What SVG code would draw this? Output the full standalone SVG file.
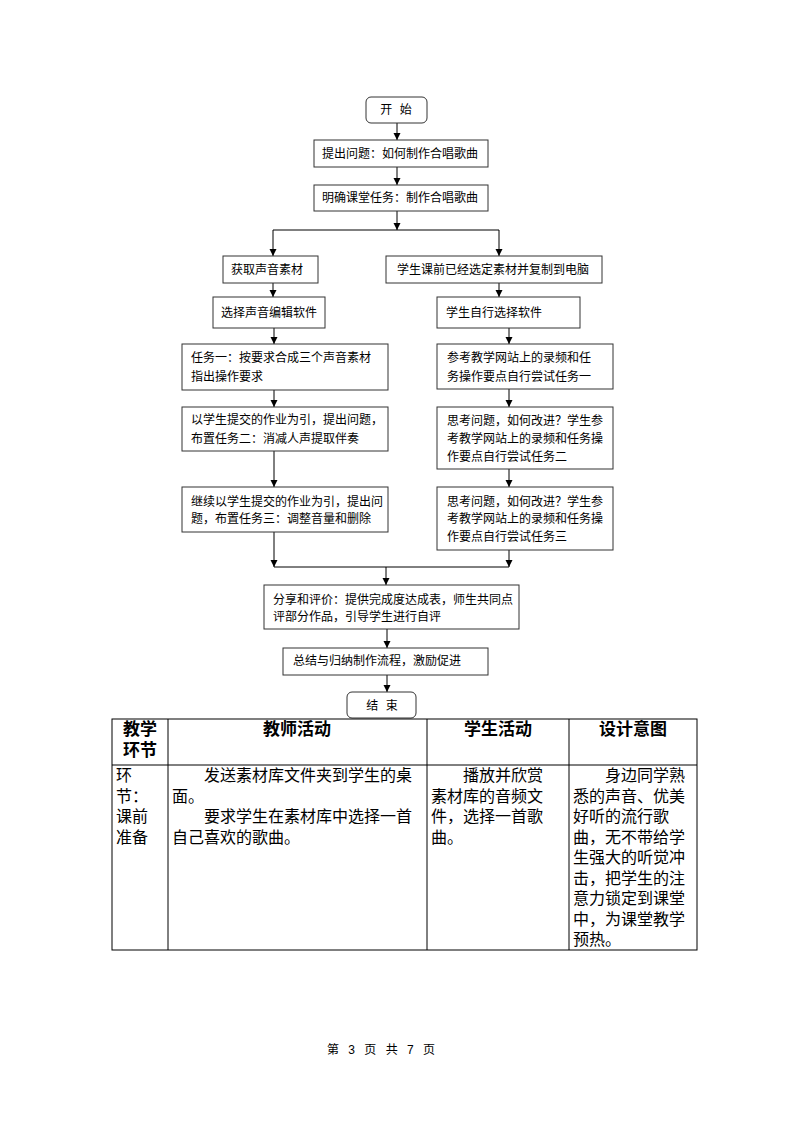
<svg xmlns="http://www.w3.org/2000/svg" width="794" height="1123" viewBox="0 0 794 1123">
<defs>
<marker id="ah" markerWidth="8" markerHeight="8" refX="7" refY="4" orient="auto" markerUnits="userSpaceOnUse">
<path d="M0,0.5 L7,4 L0,7.5 Z" fill="#000"/>
</marker>
<style>
.b{fill:#fff;stroke:#333;stroke-width:1}
.t{font-family:"Noto Sans CJK SC","Liberation Sans",sans-serif;font-size:12px;fill:#000}
.c{stroke:#000;stroke-width:1;fill:none}
.a{stroke:#000;stroke-width:1;fill:none;marker-end:url(#ah)}
.tl{stroke:#000;stroke-width:1}
.h{font-family:"Liberation Sans","Noto Sans CJK SC",sans-serif;font-size:17px;font-weight:bold;fill:#000}
.x{font-family:"Liberation Sans","Noto Sans CJK SC",sans-serif;font-size:16px;fill:#000}
.f{font-family:"Liberation Sans","Noto Sans CJK SC",sans-serif;font-size:12px;fill:#000}
</style>
</defs>
<rect width="794" height="1123" fill="#fff"/>
<g id="connectors">
<path class="a" d="M397,123 V140"/>
<path class="a" d="M397,167 V185"/>
<path class="a" d="M397,211 V230"/>
<path class="c" d="M273,230 H499"/>
<path class="a" d="M273,230 V256"/>
<path class="a" d="M499,230 V256"/>
<path class="a" d="M273,283 V297"/>
<path class="a" d="M499,283 V297"/>
<path class="a" d="M274,328 V344"/>
<path class="a" d="M509,328 V344"/>
<path class="a" d="M274,390 V407"/>
<path class="a" d="M509,389 V407"/>
<path class="a" d="M274,451 V487"/>
<path class="a" d="M509,469 V487"/>
<path class="a" d="M274,532 V567"/>
<path class="a" d="M509,550 V567"/>
<path class="c" d="M274,567 H509"/>
<path class="a" d="M386,567 V585"/>
<path class="a" d="M387,629 V648"/>
<path class="a" d="M387,675 V692"/>
</g>
<g id="start"><rect class="b" x="366" y="97" width="61" height="26" rx="5"/><text class="t" x="396" y="114" text-anchor="middle" word-spacing="5">开 始</text></g>
<g id="n1"><rect class="b" x="314" y="140" width="174" height="27"/><text class="t" x="322" y="158">提出问题：如何制作合唱歌曲</text></g>
<g id="n2"><rect class="b" x="314" y="185" width="174" height="26"/><text class="t" x="322" y="202">明确课堂任务：制作合唱歌曲</text></g>
<g id="l1"><rect class="b" x="223" y="256" width="95" height="27"/><text class="t" x="231" y="274">获取声音素材</text></g>
<g id="r1"><rect class="b" x="386" y="256" width="216" height="27"/><text class="t" x="397" y="274">学生课前已经选定素材并复制到电脑</text></g>
<g id="l2"><rect class="b" x="213" y="297" width="112" height="31"/><text class="t" x="221" y="317">选择声音编辑软件</text></g>
<g id="r2"><rect class="b" x="437" y="297" width="143" height="31"/><text class="t" x="446" y="317">学生自行选择软件</text></g>
<g id="l3"><rect class="b" x="182" y="344" width="206" height="46"/><text class="t" x="191" y="362">任务一：按要求合成三个声音素材</text><text class="t" x="191" y="381">指出操作要求</text></g>
<g id="r3"><rect class="b" x="437" y="344" width="176" height="45"/><text class="t" x="447" y="362">参考教学网站上的录频和任</text><text class="t" x="447" y="381">务操作要点自行尝试任务一</text></g>
<g id="l4"><rect class="b" x="182" y="407" width="206" height="44"/><text class="t" x="191" y="424">以学生提交的作业为引，提出问题，</text><text class="t" x="191" y="443">布置任务二：消减人声提取伴奏</text></g>
<g id="r4"><rect class="b" x="437" y="407" width="176" height="62"/><text class="t" x="447" y="425">思考问题，如何改进？学生参</text><text class="t" x="447" y="443">考教学网站上的录频和任务操</text><text class="t" x="447" y="461">作要点自行尝试任务二</text></g>
<g id="l5"><rect class="b" x="182" y="487" width="206" height="45"/><text class="t" x="191" y="506">继续以学生提交的作业为引，提出问</text><text class="t" x="191" y="523">题，布置任务三：调整音量和删除</text></g>
<g id="r5"><rect class="b" x="437" y="487" width="176" height="63"/><text class="t" x="447" y="506">思考问题，如何改进？学生参</text><text class="t" x="447" y="523">考教学网站上的录频和任务操</text><text class="t" x="447" y="541">作要点自行尝试任务三</text></g>
<g id="share"><rect class="b" x="264" y="585" width="255" height="44"/><text class="t" x="273" y="604">分享和评价：提供完成度达成表，师生共同点</text><text class="t" x="273" y="621">评部分作品，引导学生进行自评</text></g>
<g id="sum"><rect class="b" x="283" y="648" width="205" height="27"/><text class="t" x="293" y="665">总结与归纳制作流程，激励促进</text></g>
<g id="end"><rect class="b" x="347" y="692" width="69" height="26" rx="5"/><text class="t" x="382" y="710" text-anchor="middle" word-spacing="5">结 束</text></g>
<g id="table">
<rect x="112" y="719" width="585" height="231" fill="none" stroke="#000" stroke-width="1"/>
<line class="tl" x1="112" y1="765" x2="697" y2="765"/>
<line class="tl" x1="168" y1="719" x2="168" y2="950"/>
<line class="tl" x1="427" y1="719" x2="427" y2="950"/>
<line class="tl" x1="569" y1="719" x2="569" y2="950"/>
<text class="h" x="140" y="735" text-anchor="middle">教学</text>
<text class="h" x="140" y="756" text-anchor="middle">环节</text>
<text class="h" x="297" y="735" text-anchor="middle">教师活动</text>
<text class="h" x="498" y="735" text-anchor="middle">学生活动</text>
<text class="h" x="633" y="735" text-anchor="middle">设计意图</text>
<text class="x" x="116" y="781">环</text>
<text class="x" x="116" y="801.5">节：</text>
<text class="x" x="116" y="822">课前</text>
<text class="x" x="116" y="842.5">准备</text>
<text class="x" x="204" y="781">发送素材库文件夹到学生的桌</text>
<text class="x" x="172" y="801.5">面。</text>
<text class="x" x="204" y="822">要求学生在素材库中选择一首</text>
<text class="x" x="172" y="842.5">自己喜欢的歌曲。</text>
<text class="x" x="463" y="781">播放并欣赏</text>
<text class="x" x="431" y="801.5">素材库的音频文</text>
<text class="x" x="431" y="822">件，选择一首歌</text>
<text class="x" x="431" y="842.5">曲。</text>
<text class="x" x="605" y="781">身边同学熟</text>
<text class="x" x="573" y="801.5">悉的声音、优美</text>
<text class="x" x="573" y="822">好听的流行歌</text>
<text class="x" x="573" y="842.5">曲，无不带给学</text>
<text class="x" x="573" y="863">生强大的听觉冲</text>
<text class="x" x="573" y="883.5">击，把学生的注</text>
<text class="x" x="573" y="904">意力锁定到课堂</text>
<text class="x" x="573" y="924.5">中，为课堂教学</text>
<text class="x" x="573" y="945">预热。</text>
</g>
<text class="f" x="381" y="1054" text-anchor="middle" word-spacing="6">第 3 页 共 7 页</text>
</svg>
